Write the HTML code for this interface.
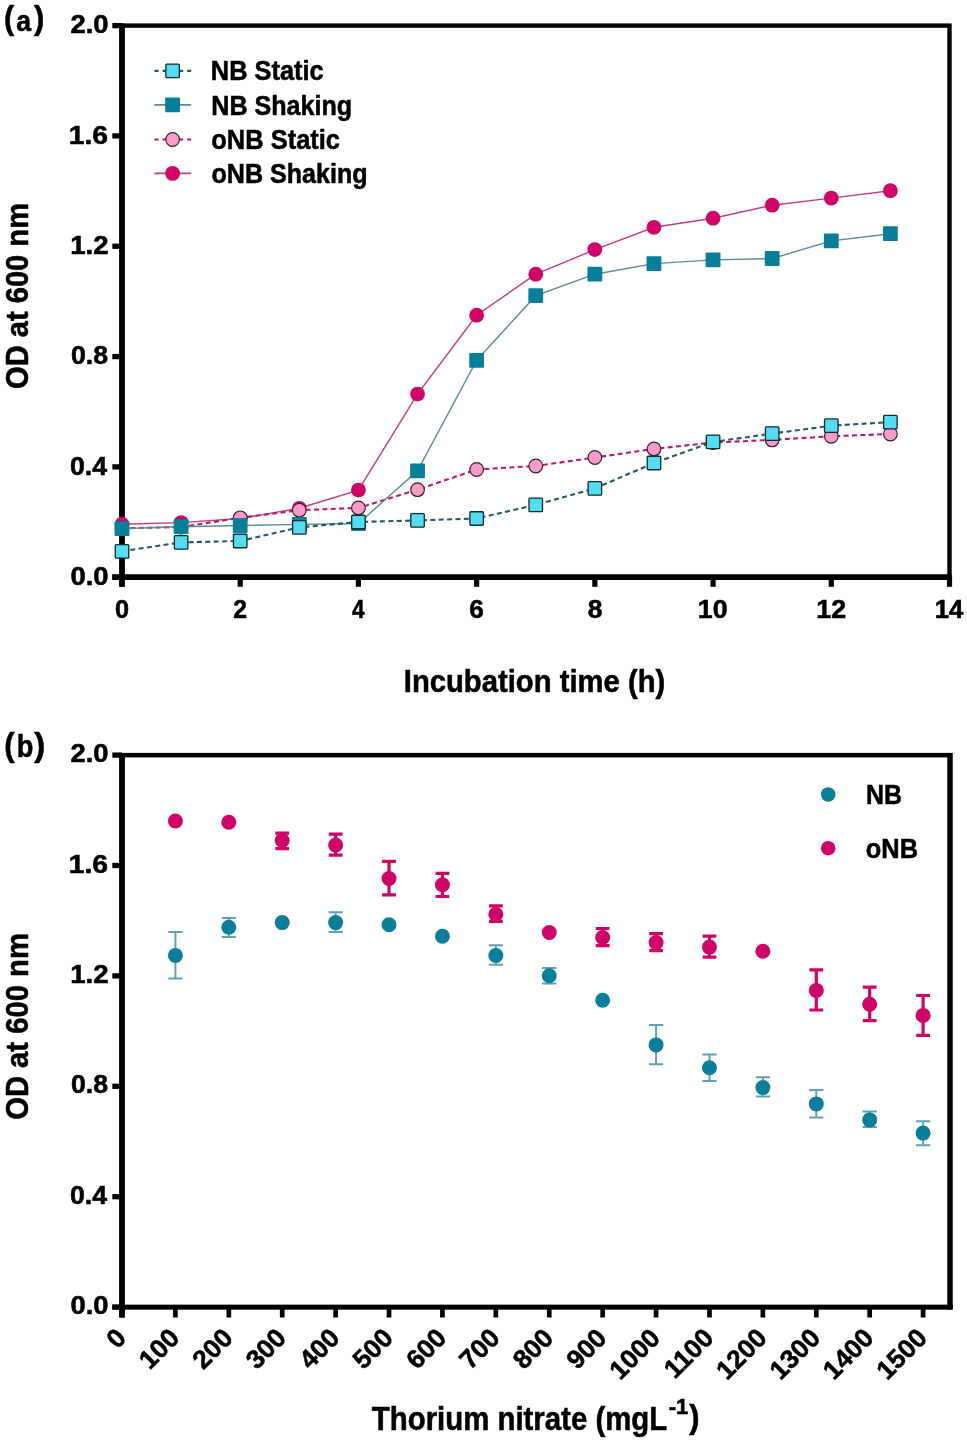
<!DOCTYPE html>
<html><head><meta charset="utf-8"><style>
html,body{margin:0;padding:0;background:#fff;}
svg{display:block;will-change:transform;}
text{font-family:"Liberation Sans", sans-serif;font-weight:bold;fill:#000;stroke:#000;stroke-width:0.55px;}
</style></head><body>
<svg width="967" height="1442" viewBox="0 0 967 1442">
<rect x="122" y="25.6" width="827.5" height="551.6" fill="none" stroke="#000" stroke-width="4.4"/>
<line x1="122" y1="23.4" x2="122" y2="586.8" stroke="#000" stroke-width="5.8"/>
<line x1="112.3" y1="577.2" x2="951.8" y2="577.2" stroke="#000" stroke-width="5.7"/>
<line x1="112.3" y1="577.20" x2="122" y2="577.20" stroke="#000" stroke-width="5.3"/>
<line x1="112.3" y1="466.88" x2="122" y2="466.88" stroke="#000" stroke-width="5.3"/>
<line x1="112.3" y1="356.56" x2="122" y2="356.56" stroke="#000" stroke-width="5.3"/>
<line x1="112.3" y1="246.24" x2="122" y2="246.24" stroke="#000" stroke-width="5.3"/>
<line x1="112.3" y1="135.92" x2="122" y2="135.92" stroke="#000" stroke-width="5.3"/>
<line x1="112.3" y1="25.60" x2="122" y2="25.60" stroke="#000" stroke-width="5.3"/>
<line x1="122.00" y1="577" x2="122.00" y2="586.8" stroke="#000" stroke-width="5.2"/>
<line x1="240.21" y1="577" x2="240.21" y2="586.8" stroke="#000" stroke-width="5.2"/>
<line x1="358.43" y1="577" x2="358.43" y2="586.8" stroke="#000" stroke-width="5.2"/>
<line x1="476.64" y1="577" x2="476.64" y2="586.8" stroke="#000" stroke-width="5.2"/>
<line x1="594.86" y1="577" x2="594.86" y2="586.8" stroke="#000" stroke-width="5.2"/>
<line x1="713.07" y1="577" x2="713.07" y2="586.8" stroke="#000" stroke-width="5.2"/>
<line x1="831.29" y1="577" x2="831.29" y2="586.8" stroke="#000" stroke-width="5.2"/>
<line x1="949.50" y1="577" x2="949.50" y2="586.8" stroke="#000" stroke-width="5.2"/>
<polyline points="122.0,524.2 181.1,522.6 240.2,518.5 299.3,508.3 358.4,490.1 417.5,394.1 476.6,315.2 535.8,274.2 594.9,249.6 654.0,227.3 713.1,218.2 772.2,205.2 831.3,198.1 890.4,190.7" fill="none" stroke="#c83c82" stroke-width="1.45"/>
<circle cx="122.00" cy="524.20" r="7.40" fill="#ce0466"/>
<circle cx="181.11" cy="522.60" r="7.40" fill="#ce0466"/>
<circle cx="240.21" cy="518.50" r="7.40" fill="#ce0466"/>
<circle cx="299.32" cy="508.30" r="7.40" fill="#ce0466"/>
<circle cx="358.43" cy="490.10" r="7.40" fill="#ce0466"/>
<circle cx="417.54" cy="394.10" r="7.40" fill="#ce0466"/>
<circle cx="476.64" cy="315.20" r="7.40" fill="#ce0466"/>
<circle cx="535.75" cy="274.20" r="7.40" fill="#ce0466"/>
<circle cx="594.86" cy="249.60" r="7.40" fill="#ce0466"/>
<circle cx="653.96" cy="227.30" r="7.40" fill="#ce0466"/>
<circle cx="713.07" cy="218.20" r="7.40" fill="#ce0466"/>
<circle cx="772.18" cy="205.20" r="7.40" fill="#ce0466"/>
<circle cx="831.29" cy="198.10" r="7.40" fill="#ce0466"/>
<circle cx="890.39" cy="190.70" r="7.40" fill="#ce0466"/>
<polyline points="122.0,528.3 181.1,527.0 240.2,517.8 299.3,510.2 358.4,507.9 417.5,489.7 476.6,469.5 535.8,466.0 594.9,457.5 654.0,448.9 713.1,442.5 772.2,439.9 831.3,436.3 890.4,434.0" fill="none" stroke="#c2166a" stroke-width="2.1" stroke-dasharray="5 3.4"/>
<circle cx="122.00" cy="528.30" r="6.83" fill="#f79cca" stroke="#32202a" stroke-width="1.15"/>
<circle cx="181.11" cy="527.00" r="6.83" fill="#f79cca" stroke="#32202a" stroke-width="1.15"/>
<circle cx="240.21" cy="517.80" r="6.83" fill="#f79cca" stroke="#32202a" stroke-width="1.15"/>
<circle cx="299.32" cy="510.20" r="6.83" fill="#f79cca" stroke="#32202a" stroke-width="1.15"/>
<circle cx="358.43" cy="507.90" r="6.83" fill="#f79cca" stroke="#32202a" stroke-width="1.15"/>
<circle cx="417.54" cy="489.70" r="6.83" fill="#f79cca" stroke="#32202a" stroke-width="1.15"/>
<circle cx="476.64" cy="469.50" r="6.83" fill="#f79cca" stroke="#32202a" stroke-width="1.15"/>
<circle cx="535.75" cy="466.00" r="6.83" fill="#f79cca" stroke="#32202a" stroke-width="1.15"/>
<circle cx="594.86" cy="457.50" r="6.83" fill="#f79cca" stroke="#32202a" stroke-width="1.15"/>
<circle cx="653.96" cy="448.90" r="6.83" fill="#f79cca" stroke="#32202a" stroke-width="1.15"/>
<circle cx="713.07" cy="442.50" r="6.83" fill="#f79cca" stroke="#32202a" stroke-width="1.15"/>
<circle cx="772.18" cy="439.90" r="6.83" fill="#f79cca" stroke="#32202a" stroke-width="1.15"/>
<circle cx="831.29" cy="436.30" r="6.83" fill="#f79cca" stroke="#32202a" stroke-width="1.15"/>
<circle cx="890.39" cy="434.00" r="6.83" fill="#f79cca" stroke="#32202a" stroke-width="1.15"/>
<polyline points="122.0,528.6 181.1,526.7 240.2,525.5 299.3,524.4 358.4,523.5 417.5,470.8 476.6,360.4 535.8,295.7 594.9,274.2 654.0,263.6 713.1,259.9 772.2,258.5 831.3,240.9 890.4,233.7" fill="none" stroke="#5a8c98" stroke-width="1.4"/>
<rect x="114.60" y="521.20" width="14.80" height="14.80" rx="0.8" fill="#087f98"/>
<rect x="173.71" y="519.30" width="14.80" height="14.80" rx="0.8" fill="#087f98"/>
<rect x="232.81" y="518.10" width="14.80" height="14.80" rx="0.8" fill="#087f98"/>
<rect x="291.92" y="517.00" width="14.80" height="14.80" rx="0.8" fill="#087f98"/>
<rect x="351.03" y="516.10" width="14.80" height="14.80" rx="0.8" fill="#087f98"/>
<rect x="410.14" y="463.40" width="14.80" height="14.80" rx="0.8" fill="#087f98"/>
<rect x="469.24" y="353.00" width="14.80" height="14.80" rx="0.8" fill="#087f98"/>
<rect x="528.35" y="288.30" width="14.80" height="14.80" rx="0.8" fill="#087f98"/>
<rect x="587.46" y="266.80" width="14.80" height="14.80" rx="0.8" fill="#087f98"/>
<rect x="646.56" y="256.20" width="14.80" height="14.80" rx="0.8" fill="#087f98"/>
<rect x="705.67" y="252.50" width="14.80" height="14.80" rx="0.8" fill="#087f98"/>
<rect x="764.78" y="251.10" width="14.80" height="14.80" rx="0.8" fill="#087f98"/>
<rect x="823.89" y="233.50" width="14.80" height="14.80" rx="0.8" fill="#087f98"/>
<rect x="882.99" y="226.30" width="14.80" height="14.80" rx="0.8" fill="#087f98"/>
<polyline points="122.0,551.3 181.1,542.4 240.2,541.0 299.3,527.3 358.4,522.0 417.5,520.4 476.6,518.5 535.8,504.9 594.9,488.4 654.0,463.0 713.1,441.9 772.2,433.6 831.3,425.7 890.4,422.1" fill="none" stroke="#1f5a68" stroke-width="2.1" stroke-dasharray="5 3.4"/>
<rect x="115.25" y="544.55" width="13.50" height="13.50" rx="0.9" fill="#55dcf0" stroke="#0e2a33" stroke-width="1.3"/>
<rect x="174.36" y="535.65" width="13.50" height="13.50" rx="0.9" fill="#55dcf0" stroke="#0e2a33" stroke-width="1.3"/>
<rect x="233.46" y="534.25" width="13.50" height="13.50" rx="0.9" fill="#55dcf0" stroke="#0e2a33" stroke-width="1.3"/>
<rect x="292.57" y="520.55" width="13.50" height="13.50" rx="0.9" fill="#55dcf0" stroke="#0e2a33" stroke-width="1.3"/>
<rect x="351.68" y="515.25" width="13.50" height="13.50" rx="0.9" fill="#55dcf0" stroke="#0e2a33" stroke-width="1.3"/>
<rect x="410.79" y="513.65" width="13.50" height="13.50" rx="0.9" fill="#55dcf0" stroke="#0e2a33" stroke-width="1.3"/>
<rect x="469.89" y="511.75" width="13.50" height="13.50" rx="0.9" fill="#55dcf0" stroke="#0e2a33" stroke-width="1.3"/>
<rect x="529.00" y="498.15" width="13.50" height="13.50" rx="0.9" fill="#55dcf0" stroke="#0e2a33" stroke-width="1.3"/>
<rect x="588.11" y="481.65" width="13.50" height="13.50" rx="0.9" fill="#55dcf0" stroke="#0e2a33" stroke-width="1.3"/>
<rect x="647.21" y="456.25" width="13.50" height="13.50" rx="0.9" fill="#55dcf0" stroke="#0e2a33" stroke-width="1.3"/>
<rect x="706.32" y="435.15" width="13.50" height="13.50" rx="0.9" fill="#55dcf0" stroke="#0e2a33" stroke-width="1.3"/>
<rect x="765.43" y="426.85" width="13.50" height="13.50" rx="0.9" fill="#55dcf0" stroke="#0e2a33" stroke-width="1.3"/>
<rect x="824.54" y="418.95" width="13.50" height="13.50" rx="0.9" fill="#55dcf0" stroke="#0e2a33" stroke-width="1.3"/>
<rect x="883.64" y="415.35" width="13.50" height="13.50" rx="0.9" fill="#55dcf0" stroke="#0e2a33" stroke-width="1.3"/>
<text x="108.60" y="584.90" font-size="25.4" text-anchor="end" textLength="38.14" lengthAdjust="spacingAndGlyphs">0.0</text>
<text x="107.10" y="474.90" font-size="25.4" text-anchor="end" textLength="37.09" lengthAdjust="spacingAndGlyphs">0.4</text>
<text x="108.10" y="363.90" font-size="25.4" text-anchor="end" textLength="37.06" lengthAdjust="spacingAndGlyphs">0.8</text>
<text x="108.60" y="253.90" font-size="25.4" text-anchor="end" textLength="38.32" lengthAdjust="spacingAndGlyphs">1.2</text>
<text x="108.10" y="143.90" font-size="25.4" text-anchor="end" textLength="39.35" lengthAdjust="spacingAndGlyphs">1.6</text>
<text x="108.60" y="32.90" font-size="25.4" text-anchor="end" textLength="38.14" lengthAdjust="spacingAndGlyphs">2.0</text>
<text x="122.00" y="617.50" font-size="25.4" text-anchor="middle" textLength="14.07" lengthAdjust="spacingAndGlyphs">0</text>
<text x="240.25" y="617.50" font-size="25.4" text-anchor="middle" textLength="13.76" lengthAdjust="spacingAndGlyphs">2</text>
<text x="358.25" y="617.50" font-size="25.4" text-anchor="middle" textLength="12.53" lengthAdjust="spacingAndGlyphs">4</text>
<text x="476.50" y="617.50" font-size="25.4" text-anchor="middle" textLength="14.53" lengthAdjust="spacingAndGlyphs">6</text>
<text x="595.00" y="617.50" font-size="25.4" text-anchor="middle" textLength="14.71" lengthAdjust="spacingAndGlyphs">8</text>
<text x="712.75" y="617.50" font-size="25.4" text-anchor="middle" textLength="29.74" lengthAdjust="spacingAndGlyphs">10</text>
<text x="831.25" y="617.50" font-size="25.4" text-anchor="middle" textLength="29.86" lengthAdjust="spacingAndGlyphs">12</text>
<text x="949.00" y="617.50" font-size="25.4" text-anchor="middle" textLength="28.55" lengthAdjust="spacingAndGlyphs">14</text>
<text x="0.00" y="0.00" font-size="31" text-anchor="middle" textLength="185.99" lengthAdjust="spacingAndGlyphs" transform="translate(27.6,296) rotate(-90)">OD at 600 nm</text>
<text x="534.50" y="691.50" font-size="32" text-anchor="middle" textLength="261.46" lengthAdjust="spacingAndGlyphs">Incubation time (h)</text>
<text x="4.10" y="29.10" font-size="34" text-anchor="start" textLength="10.10" lengthAdjust="spacingAndGlyphs">(</text>
<text x="16.20" y="30.50" font-size="30" text-anchor="start" textLength="14.84" lengthAdjust="spacingAndGlyphs">a</text>
<text x="33.90" y="29.10" font-size="34" text-anchor="start" textLength="10.41" lengthAdjust="spacingAndGlyphs">)</text>
<line x1="154.4" y1="70.9" x2="191.2" y2="70.9" stroke="#1f5a68" stroke-width="2.2" stroke-dasharray="4.2 4.0"/>
<rect x="165.85" y="64.15" width="13.50" height="13.50" rx="0.9" fill="#55dcf0" stroke="#0e2a33" stroke-width="1.3"/>
<line x1="154.4" y1="104.9" x2="191.2" y2="104.9" stroke="#5a8c98" stroke-width="1.6"/>
<rect x="165.20" y="97.50" width="14.80" height="14.80" rx="0.8" fill="#087f98"/>
<line x1="154.4" y1="139.5" x2="191.2" y2="139.5" stroke="#c2166a" stroke-width="2.2" stroke-dasharray="4.2 4.0"/>
<circle cx="172.60" cy="139.50" r="6.83" fill="#f79cca" stroke="#32202a" stroke-width="1.15"/>
<line x1="154.4" y1="173.4" x2="191.2" y2="173.4" stroke="#c83c82" stroke-width="1.6"/>
<circle cx="172.60" cy="173.40" r="7.40" fill="#ce0466"/>
<text x="210.80" y="80.20" font-size="27.6" text-anchor="start" textLength="112.90" lengthAdjust="spacingAndGlyphs">NB Static</text>
<text x="211.30" y="114.60" font-size="27.6" text-anchor="start" textLength="140.91" lengthAdjust="spacingAndGlyphs">NB Shaking</text>
<text x="211.30" y="148.90" font-size="27.6" text-anchor="start" textLength="128.72" lengthAdjust="spacingAndGlyphs">oNB Static</text>
<text x="211.50" y="182.90" font-size="27.6" text-anchor="start" textLength="156.08" lengthAdjust="spacingAndGlyphs">oNB Shaking</text>
<rect x="122" y="755.15" width="828" height="551.95" fill="none" stroke="#000" stroke-width="4.5"/>
<line x1="122" y1="752.9" x2="122" y2="1317.5" stroke="#000" stroke-width="5.8"/>
<line x1="950" y1="752.9" x2="950" y2="1309.4" stroke="#000" stroke-width="5.3"/>
<line x1="112.3" y1="1307.1" x2="952.7" y2="1307.1" stroke="#000" stroke-width="4.6"/>
<line x1="112.3" y1="1307.10" x2="122" y2="1307.10" stroke="#000" stroke-width="5.3"/>
<line x1="112.3" y1="1196.70" x2="122" y2="1196.70" stroke="#000" stroke-width="5.3"/>
<line x1="112.3" y1="1086.30" x2="122" y2="1086.30" stroke="#000" stroke-width="5.3"/>
<line x1="112.3" y1="975.90" x2="122" y2="975.90" stroke="#000" stroke-width="5.3"/>
<line x1="112.3" y1="865.50" x2="122" y2="865.50" stroke="#000" stroke-width="5.3"/>
<line x1="112.3" y1="755.10" x2="122" y2="755.10" stroke="#000" stroke-width="5.3"/>
<line x1="122.00" y1="1307" x2="122.00" y2="1317.5" stroke="#000" stroke-width="4.7"/>
<line x1="175.41" y1="1307" x2="175.41" y2="1317.5" stroke="#000" stroke-width="4.7"/>
<line x1="228.81" y1="1307" x2="228.81" y2="1317.5" stroke="#000" stroke-width="4.7"/>
<line x1="282.22" y1="1307" x2="282.22" y2="1317.5" stroke="#000" stroke-width="4.7"/>
<line x1="335.63" y1="1307" x2="335.63" y2="1317.5" stroke="#000" stroke-width="4.7"/>
<line x1="389.03" y1="1307" x2="389.03" y2="1317.5" stroke="#000" stroke-width="4.7"/>
<line x1="442.44" y1="1307" x2="442.44" y2="1317.5" stroke="#000" stroke-width="4.7"/>
<line x1="495.85" y1="1307" x2="495.85" y2="1317.5" stroke="#000" stroke-width="4.7"/>
<line x1="549.25" y1="1307" x2="549.25" y2="1317.5" stroke="#000" stroke-width="4.7"/>
<line x1="602.66" y1="1307" x2="602.66" y2="1317.5" stroke="#000" stroke-width="4.7"/>
<line x1="656.07" y1="1307" x2="656.07" y2="1317.5" stroke="#000" stroke-width="4.7"/>
<line x1="709.47" y1="1307" x2="709.47" y2="1317.5" stroke="#000" stroke-width="4.7"/>
<line x1="762.88" y1="1307" x2="762.88" y2="1317.5" stroke="#000" stroke-width="4.7"/>
<line x1="816.29" y1="1307" x2="816.29" y2="1317.5" stroke="#000" stroke-width="4.7"/>
<line x1="869.69" y1="1307" x2="869.69" y2="1317.5" stroke="#000" stroke-width="4.7"/>
<line x1="923.10" y1="1307" x2="923.10" y2="1317.5" stroke="#000" stroke-width="4.7"/>
<circle cx="175.41" cy="821.00" r="7.50" fill="#ce0466"/>
<circle cx="228.81" cy="822.30" r="7.50" fill="#ce0466"/>
<path d="M282.22,833.20V848.70M275.32,833.20H289.12M275.32,848.70H289.12" stroke="#ce0466" stroke-width="3.2" fill="none"/>
<circle cx="282.22" cy="840.50" r="7.50" fill="#ce0466"/>
<path d="M335.63,834.10V855.20M328.73,834.10H342.53M328.73,855.20H342.53" stroke="#ce0466" stroke-width="3.2" fill="none"/>
<circle cx="335.63" cy="845.00" r="7.50" fill="#ce0466"/>
<path d="M389.03,861.40V894.90M382.13,861.40H395.93M382.13,894.90H395.93" stroke="#ce0466" stroke-width="3.2" fill="none"/>
<circle cx="389.03" cy="878.50" r="7.50" fill="#ce0466"/>
<path d="M442.44,873.30V896.50M435.54,873.30H449.34M435.54,896.50H449.34" stroke="#ce0466" stroke-width="3.2" fill="none"/>
<circle cx="442.44" cy="884.80" r="7.50" fill="#ce0466"/>
<path d="M495.85,905.80V921.40M488.95,905.80H502.75M488.95,921.40H502.75" stroke="#ce0466" stroke-width="3.2" fill="none"/>
<circle cx="495.85" cy="914.20" r="7.50" fill="#ce0466"/>
<circle cx="549.25" cy="932.50" r="7.50" fill="#ce0466"/>
<path d="M602.66,928.50V945.60M595.76,928.50H609.56M595.76,945.60H609.56" stroke="#ce0466" stroke-width="3.2" fill="none"/>
<circle cx="602.66" cy="937.50" r="7.50" fill="#ce0466"/>
<path d="M656.07,933.70V950.70M649.17,933.70H662.97M649.17,950.70H662.97" stroke="#ce0466" stroke-width="3.2" fill="none"/>
<circle cx="656.07" cy="942.60" r="7.50" fill="#ce0466"/>
<path d="M709.47,936.20V957.10M702.57,936.20H716.37M702.57,957.10H716.37" stroke="#ce0466" stroke-width="3.2" fill="none"/>
<circle cx="709.47" cy="947.10" r="7.50" fill="#ce0466"/>
<circle cx="762.88" cy="951.30" r="7.50" fill="#ce0466"/>
<path d="M816.29,969.90V1010.00M809.39,969.90H823.19M809.39,1010.00H823.19" stroke="#ce0466" stroke-width="3.2" fill="none"/>
<circle cx="816.29" cy="990.40" r="7.50" fill="#ce0466"/>
<path d="M869.69,987.20V1020.60M862.79,987.20H876.59M862.79,1020.60H876.59" stroke="#ce0466" stroke-width="3.2" fill="none"/>
<circle cx="869.69" cy="1004.20" r="7.50" fill="#ce0466"/>
<path d="M923.10,995.50V1035.30M916.20,995.50H930.00M916.20,1035.30H930.00" stroke="#ce0466" stroke-width="3.2" fill="none"/>
<circle cx="923.10" cy="1015.40" r="7.50" fill="#ce0466"/>
<path d="M175.41,931.90V978.60M168.31,931.90H182.51M168.31,978.60H182.51" stroke="#5fa3b3" stroke-width="2" fill="none"/>
<circle cx="175.41" cy="955.40" r="7.50" fill="#0a7f99"/>
<path d="M228.81,917.90V937.10M221.71,917.90H235.91M221.71,937.10H235.91" stroke="#5fa3b3" stroke-width="2" fill="none"/>
<circle cx="228.81" cy="927.20" r="7.50" fill="#0a7f99"/>
<circle cx="282.22" cy="922.60" r="7.50" fill="#0a7f99"/>
<path d="M335.63,912.30V931.90M328.53,912.30H342.73M328.53,931.90H342.73" stroke="#5fa3b3" stroke-width="2" fill="none"/>
<circle cx="335.63" cy="922.60" r="7.50" fill="#0a7f99"/>
<circle cx="389.03" cy="924.70" r="7.50" fill="#0a7f99"/>
<circle cx="442.44" cy="936.30" r="7.50" fill="#0a7f99"/>
<path d="M495.85,945.30V964.80M488.75,945.30H502.95M488.75,964.80H502.95" stroke="#5fa3b3" stroke-width="2" fill="none"/>
<circle cx="495.85" cy="955.50" r="7.50" fill="#0a7f99"/>
<path d="M549.25,967.90V983.40M542.15,967.90H556.35M542.15,983.40H556.35" stroke="#5fa3b3" stroke-width="2" fill="none"/>
<circle cx="549.25" cy="975.70" r="7.50" fill="#0a7f99"/>
<circle cx="602.66" cy="1000.20" r="7.50" fill="#0a7f99"/>
<path d="M656.07,1025.00V1064.20M648.97,1025.00H663.17M648.97,1064.20H663.17" stroke="#5fa3b3" stroke-width="2" fill="none"/>
<circle cx="656.07" cy="1044.90" r="7.50" fill="#0a7f99"/>
<path d="M709.47,1054.50V1081.10M702.37,1054.50H716.57M702.37,1081.10H716.57" stroke="#5fa3b3" stroke-width="2" fill="none"/>
<circle cx="709.47" cy="1067.70" r="7.50" fill="#0a7f99"/>
<path d="M762.88,1077.30V1096.50M755.78,1077.30H769.98M755.78,1096.50H769.98" stroke="#5fa3b3" stroke-width="2" fill="none"/>
<circle cx="762.88" cy="1087.60" r="7.50" fill="#0a7f99"/>
<path d="M816.29,1090.10V1117.40M809.19,1090.10H823.39M809.19,1117.40H823.39" stroke="#5fa3b3" stroke-width="2" fill="none"/>
<circle cx="816.29" cy="1103.90" r="7.50" fill="#0a7f99"/>
<path d="M869.69,1111.60V1127.00M862.59,1111.60H876.79M862.59,1127.00H876.79" stroke="#5fa3b3" stroke-width="2" fill="none"/>
<circle cx="869.69" cy="1119.90" r="7.50" fill="#0a7f99"/>
<path d="M923.10,1121.20V1145.30M916.00,1121.20H930.20M916.00,1145.30H930.20" stroke="#5fa3b3" stroke-width="2" fill="none"/>
<circle cx="923.10" cy="1133.10" r="7.50" fill="#0a7f99"/>
<text x="108.60" y="1314.40" font-size="25.4" text-anchor="end" textLength="38.14" lengthAdjust="spacingAndGlyphs">0.0</text>
<text x="107.10" y="1204.40" font-size="25.4" text-anchor="end" textLength="37.09" lengthAdjust="spacingAndGlyphs">0.4</text>
<text x="108.10" y="1093.40" font-size="25.4" text-anchor="end" textLength="37.06" lengthAdjust="spacingAndGlyphs">0.8</text>
<text x="108.60" y="983.40" font-size="25.4" text-anchor="end" textLength="38.32" lengthAdjust="spacingAndGlyphs">1.2</text>
<text x="108.10" y="873.40" font-size="25.4" text-anchor="end" textLength="39.35" lengthAdjust="spacingAndGlyphs">1.6</text>
<text x="108.60" y="762.40" font-size="25.4" text-anchor="end" textLength="38.14" lengthAdjust="spacingAndGlyphs">2.0</text>
<text x="127.50" y="1339.50" font-size="26.3" text-anchor="end" transform="rotate(-45 127.5 1339.5)">0</text>
<text x="180.91" y="1339.50" font-size="26.3" text-anchor="end" transform="rotate(-45 180.9 1339.5)">100</text>
<text x="234.31" y="1339.50" font-size="26.3" text-anchor="end" transform="rotate(-45 234.3 1339.5)">200</text>
<text x="287.72" y="1339.50" font-size="26.3" text-anchor="end" transform="rotate(-45 287.7 1339.5)">300</text>
<text x="341.13" y="1339.50" font-size="26.3" text-anchor="end" transform="rotate(-45 341.1 1339.5)">400</text>
<text x="394.53" y="1339.50" font-size="26.3" text-anchor="end" transform="rotate(-45 394.5 1339.5)">500</text>
<text x="447.94" y="1339.50" font-size="26.3" text-anchor="end" transform="rotate(-45 447.9 1339.5)">600</text>
<text x="501.35" y="1339.50" font-size="26.3" text-anchor="end" transform="rotate(-45 501.3 1339.5)">700</text>
<text x="554.75" y="1339.50" font-size="26.3" text-anchor="end" transform="rotate(-45 554.8 1339.5)">800</text>
<text x="608.16" y="1339.50" font-size="26.3" text-anchor="end" transform="rotate(-45 608.2 1339.5)">900</text>
<text x="661.57" y="1339.50" font-size="26.3" text-anchor="end" transform="rotate(-45 661.6 1339.5)">1000</text>
<text x="714.97" y="1339.50" font-size="26.3" text-anchor="end" transform="rotate(-45 715.0 1339.5)">1100</text>
<text x="768.38" y="1339.50" font-size="26.3" text-anchor="end" transform="rotate(-45 768.4 1339.5)">1200</text>
<text x="821.79" y="1339.50" font-size="26.3" text-anchor="end" transform="rotate(-45 821.8 1339.5)">1300</text>
<text x="875.19" y="1339.50" font-size="26.3" text-anchor="end" transform="rotate(-45 875.2 1339.5)">1400</text>
<text x="928.60" y="1339.50" font-size="26.3" text-anchor="end" transform="rotate(-45 928.6 1339.5)">1500</text>
<text x="0.00" y="0.40" font-size="31" text-anchor="middle" textLength="186.70" lengthAdjust="spacingAndGlyphs" transform="translate(27.6,1026.5) rotate(-90)">OD at 600 nm</text>
<text x="371.80" y="1429.50" font-size="32.5" text-anchor="start" textLength="295.40" lengthAdjust="spacingAndGlyphs">Thorium nitrate (mgL</text>
<text x="668.80" y="1413.80" font-size="21.5" text-anchor="start" textLength="19.57" lengthAdjust="spacingAndGlyphs">-1</text>
<text x="689.30" y="1428.10" font-size="33" text-anchor="start" textLength="10.23" lengthAdjust="spacingAndGlyphs">)</text>
<text x="4.20" y="755.80" font-size="34" text-anchor="start" textLength="10.31" lengthAdjust="spacingAndGlyphs">(</text>
<text x="16.70" y="757.00" font-size="32" text-anchor="start" textLength="16.62" lengthAdjust="spacingAndGlyphs">b</text>
<text x="34.30" y="755.80" font-size="34" text-anchor="start" textLength="11.02" lengthAdjust="spacingAndGlyphs">)</text>
<circle cx="828.20" cy="794.50" r="7.25" fill="#0a7f99"/>
<circle cx="828.20" cy="848.20" r="7.25" fill="#ce0466"/>
<text x="866.10" y="804.00" font-size="28" text-anchor="start" textLength="36.04" lengthAdjust="spacingAndGlyphs">NB</text>
<text x="865.80" y="857.60" font-size="28" text-anchor="start" textLength="52.18" lengthAdjust="spacingAndGlyphs">oNB</text>
</svg>
</body></html>
